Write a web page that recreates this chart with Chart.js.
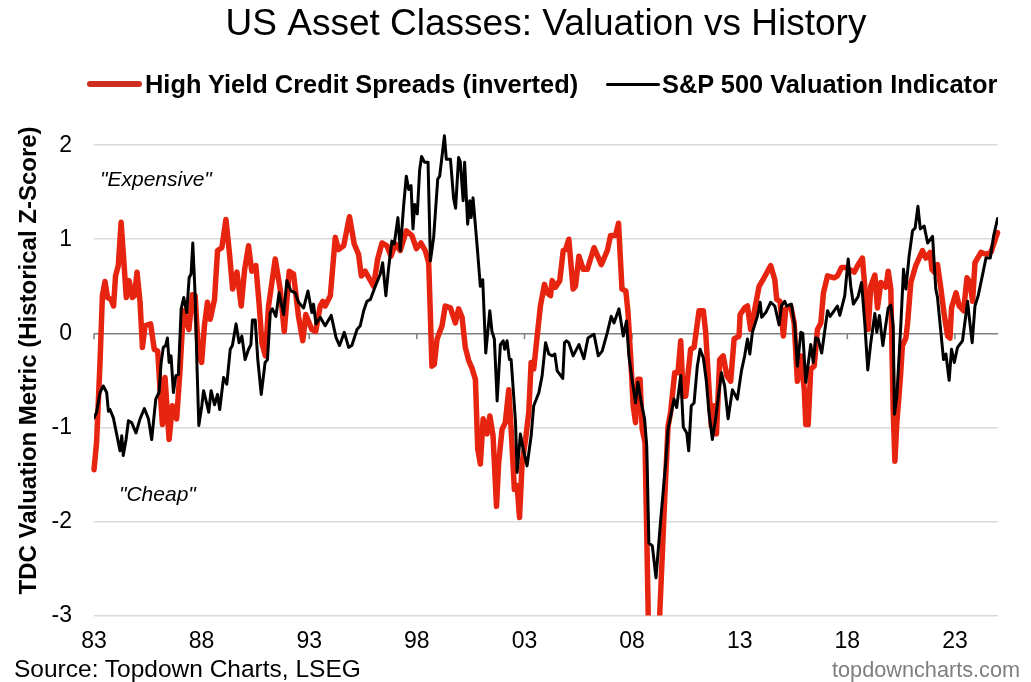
<!DOCTYPE html>
<html>
<head>
<meta charset="utf-8">
<title>US Asset Classes: Valuation vs History</title>
<script src="https://cdn.jsdelivr.net/npm/chart.js@4"></script>
<style>
    html, body { margin: 0; padding: 0; background: #fff; }
    #wrap { position: relative; width: 1031px; height: 682px; overflow: hidden; font-family: "Liberation Sans", Arial, sans-serif; color: #000; }
    #wrap canvas { position: absolute; left: 0; top: 0; }
    .txt { position: absolute; white-space: nowrap; line-height: 1; }
    #legend { position: absolute; left: 0; top: 0; width: 100%; }
    .key { position: absolute; }
    .legendLabel { font-weight: bold; font-size: 25.4px; }
    .note { font-style: italic; font-size: 21px; }
</style>
</head>
<body>
<div id="wrap">
    <canvas id="valuationChart" width="1031" height="682"></canvas>
    <div id="legend"></div>
    <div class="txt note" style="left:100px;top:168px">"Expensive"</div>
    <div class="txt note" style="left:119px;top:483px">"Cheap"</div>
    <div class="txt" style="left:14px;top:657px;font-size:24.5px">Source: Topdown Charts, LSEG</div>
    <div class="txt" style="left:832px;top:659px;font-size:21.7px;color:#7f7f7f">topdowncharts.com</div>
</div>
<script>
// Dati
const titleText = 'US Asset Classes: Valuation vs History';
const yAxisTitle = 'TDC Valuation Metric (Historical Z-Score)';
const tickYears = [1983, 1988, 1993, 1998, 2003, 2008, 2013, 2018, 2023];
const tickLabels = ['83', '88', '93', '98', '03', '08', '13', '18', '23'];

const creditLabel = 'High Yield Credit Spreads (inverted)';
const creditDates = [
    1983, 1983.12, 1983.28, 1983.39, 1983.51, 1983.63, 1983.79, 1983.91, 1984, 1984.13, 1984.26, 1984.37, 1984.5, 1984.63, 1984.78, 1984.88,
    1985, 1985.14, 1985.25, 1985.37, 1985.63, 1985.8, 1985.96, 1986.07, 1986.18, 1986.3, 1986.49, 1986.64, 1986.84, 1987, 1987.15, 1987.23,
    1987.41, 1987.57, 1987.7, 1987.85, 1988, 1988.13, 1988.27, 1988.4, 1988.6, 1988.74, 1988.94, 1989.13, 1989.29, 1989.44, 1989.64, 1989.84,
    1990, 1990.18, 1990.33, 1990.52, 1990.68, 1990.8, 1990.96, 1991.11, 1991.42, 1991.65, 1991.84, 1992.07, 1992.27, 1992.5, 1992.7, 1992.84,
    1993.12, 1993.3, 1993.51, 1993.63, 1993.74, 1993.98, 1994.21, 1994.36, 1994.6, 1994.87, 1995.09, 1995.29, 1995.42, 1995.6, 1995.99, 1996.18,
    1996.38, 1996.61, 1996.8, 1997, 1997.23, 1997.51, 1997.77, 1997.98, 1998.19, 1998.39, 1998.55, 1998.63, 1998.7, 1998.81, 1998.94, 1999.17,
    1999.32, 1999.56, 1999.79, 1999.94, 2000.1, 2000.25, 2000.41, 2000.56, 2000.72, 2000.83, 2000.95, 2001.08, 2001.26, 2001.39, 2001.54, 2001.7,
    2001.8, 2001.96, 2002.11, 2002.27, 2002.38, 2002.53, 2002.66, 2002.77, 2002.89, 2003.05, 2003.2, 2003.31, 2003.43, 2003.59, 2003.74, 2003.93,
    2004.05, 2004.21, 2004.29, 2004.44, 2004.64, 2004.8, 2004.91, 2005.06, 2005.26, 2005.37, 2005.53, 2005.73, 2005.92, 2006.23, 2006.57, 2006.85,
    2007, 2007.23, 2007.37, 2007.53, 2007.71, 2007.81, 2007.93, 2008.05, 2008.16, 2008.27, 2008.37, 2008.47, 2008.6, 2008.68, 2008.75, 2009,
    2009.28, 2009.48, 2009.67, 2009.79, 2009.98, 2010.13, 2010.26, 2010.37, 2010.49, 2010.72, 2010.88, 2011.11, 2011.31, 2011.42, 2011.53, 2011.68,
    2011.81, 2011.92, 2012.07, 2012.23, 2012.4, 2012.58, 2012.74, 2012.97, 2013.02, 2013.23, 2013.36, 2013.51, 2013.67, 2013.9, 2014.13, 2014.44,
    2014.63, 2014.72, 2014.87, 2015.03, 2015.14, 2015.37, 2015.53, 2015.68, 2015.84, 2016, 2016.07, 2016.18, 2016.3, 2016.46, 2016.61, 2016.77,
    2016.89, 2017.08, 2017.39, 2017.54, 2017.73, 2017.93, 2018.32, 2018.5, 2018.7, 2018.86, 2018.97, 2019.09, 2019.28, 2019.4, 2019.56, 2019.79,
    2019.9, 2020.02, 2020.13, 2020.21, 2020.3, 2020.46, 2020.56, 2020.72, 2020.8, 2020.95, 2021.18, 2021.49, 2021.65, 2021.85, 2021.93, 2022.04,
    2022.19, 2022.35, 2022.5, 2022.66, 2022.77, 2022.84, 2023.05, 2023.2, 2023.4, 2023.56, 2023.7, 2023.82, 2023.93, 2024.21, 2024.44, 2024.67, 2024.98
];
const creditValues = [
    -1.45, -1.16, -0.31, 0.40, 0.55, 0.38, 0.36, 0.29, 0.61, 0.72, 1.18, 0.82, 0.38, 0.56, 0.38, 0.40,
    0.65, 0.33, -0.15, 0.08, 0.10, -0.17, -0.19, -0.60, -0.97, -0.47, -1.13, -0.77, -0.91, -0.38, 0.24, 0.18,
    0.04, 0.41, 0.40, -0.20, -0.31, 0.08, 0.33, 0.15, 0.36, 0.88, 0.91, 1.21, 0.86, 0.47, 0.65, 0.29,
    0.68, 0.93, 0.66, 0.72, 0.29, -0.10, -0.24, 0.29, 0.79, 0.47, 0.02, 0.66, 0.63, 0.18, -0.08, 0.20,
    0.04, 0.02, 0.29, 0.34, 0.29, 0.40, 1.02, 0.89, 0.93, 1.24, 0.95, 0.84, 0.61, 0.66, 0.50, 0.79,
    0.96, 0.93, 0.82, 0.95, 0.88, 1.09, 1.04, 0.90, 0.96, 0.88, 0.75, 0.18, -0.35, -0.33, -0.06, 0.08,
    0.29, 0.27, 0.11, 0.26, 0.17, -0.15, -0.29, -0.37, -0.49, -1.23, -1.39, -0.91, -1.07, -0.88, -1.09, -1.84,
    -1.38, -1.02, -0.95, -0.60, -1.02, -1.66, -1.62, -1.96, -1.38, -1.13, -0.84, -0.31, -0.38, -0.03, 0.29, 0.52,
    0.43, 0.40, 0.56, 0.49, 0.56, 0.88, 0.89, 1.00, 0.47, 0.50, 0.82, 0.68, 0.68, 0.91, 0.73, 0.88,
    1.04, 1.04, 1.17, 0.47, 0.45, 0.22, -0.24, -0.77, -0.95, -0.49, -0.49, -1.02, -1.16, -2.12, -3.01, -3.70,
    -3.01, -1.94, -0.99, -0.84, -0.42, -0.42, -0.08, -0.67, -0.67, -0.17, -0.15, 0.24, 0.24, 0.01, -0.42, -0.99,
    -0.77, -1.07, -0.28, -0.24, -0.45, -0.51, -0.06, -0.03, 0.20, 0.27, 0.29, 0.04, 0.22, 0.50, 0.59, 0.72,
    0.57, 0.36, 0.34, -0.03, 0.26, 0.29, 0.11, -0.51, -0.24, -0.60, -0.97, -0.97, -0.38, -0.35, 0.04, 0.11,
    0.43, 0.61, 0.59, 0.61, 0.70, 0.70, 0.65, 0.73, 0.80, 0.36, 0.04, 0.50, 0.62, 0.27, 0.54, 0.49,
    0.66, 0.47, -0.81, -1.36, -0.95, -0.49, -0.13, -0.05, 0.11, 0.54, 0.72, 0.88, 0.80, 0.86, 0.68, 0.65,
    0.73, 0.47, 0.20, -0.03, -0.05, 0.27, 0.43, 0.29, 0.24, 0.59, 0.54, 0.34, 0.75, 0.86, 0.84, 0.86, 1.07
];

const equityLabel = 'S&P 500 Valuation Indicator';
const equityDates = [
    1983, 1983.12, 1983.28, 1983.43, 1983.59, 1983.67, 1983.74, 1983.9, 1984.05, 1984.21, 1984.29, 1984.36, 1984.49, 1984.6, 1984.75, 1984.95,
    1985.14, 1985.34, 1985.53, 1985.68, 1985.87, 1986.02, 1986.12, 1986.22, 1986.33, 1986.41, 1986.49, 1986.58, 1986.69, 1986.8, 1986.92, 1987.05,
    1987.17, 1987.31, 1987.42, 1987.51, 1987.59, 1987.7, 1987.78, 1987.87, 1988.01, 1988.09, 1988.21, 1988.33, 1988.44, 1988.6, 1988.74, 1988.84,
    1989.02, 1989.17, 1989.33, 1989.43, 1989.6, 1989.74, 1989.87, 1990.02, 1990.18, 1990.29, 1990.36, 1990.49, 1990.61, 1990.77, 1990.95, 1991.06,
    1991.19, 1991.29, 1991.45, 1991.6, 1991.81, 1991.96, 1992.15, 1992.35, 1992.5, 1992.74, 1992.94, 1993.12, 1993.2, 1993.31, 1993.51, 1993.74,
    1994.02, 1994.25, 1994.41, 1994.63, 1994.83, 1994.98, 1995.22, 1995.37, 1995.53, 1995.68, 1995.84, 1996.07, 1996.3, 1996.41, 1996.56, 1996.69,
    1996.84, 1996.95, 1997.12, 1997.23, 1997.39, 1997.51, 1997.62, 1997.73, 1997.82, 1997.9, 1998.02, 1998.13, 1998.22, 1998.35, 1998.52, 1998.63,
    1998.78, 1998.97, 1999.06, 1999.28, 1999.37, 1999.56, 1999.71, 1999.8, 1999.94, 2000.02, 2000.15, 2000.22, 2000.36, 2000.46, 2000.52, 2000.61,
    2000.8, 2000.95, 2001.06, 2001.2, 2001.39, 2001.49, 2001.6, 2001.73, 2001.88, 2002.01, 2002.08, 2002.19, 2002.3, 2002.38, 2002.58, 2002.66,
    2002.81, 2002.94, 2003.12, 2003.31, 2003.43, 2003.67, 2003.82, 2003.98, 2004.13, 2004.29, 2004.41, 2004.52, 2004.78, 2004.86, 2004.95, 2005.06,
    2005.26, 2005.53, 2005.76, 2005.95, 2006.23, 2006.43, 2006.61, 2006.85, 2007.03, 2007.16, 2007.39, 2007.59, 2007.74, 2007.85, 2008.01, 2008.16,
    2008.27, 2008.43, 2008.58, 2008.68, 2008.78, 2008.94, 2009.11, 2009.33, 2009.56, 2009.67, 2009.95, 2010.07, 2010.26, 2010.38, 2010.54, 2010.63,
    2010.75, 2010.88, 2011.03, 2011.16, 2011.31, 2011.45, 2011.57, 2011.73, 2011.88, 2012.15, 2012.3, 2012.46, 2012.66, 2012.89, 2013.08, 2013.23,
    2013.36, 2013.47, 2013.59, 2013.82, 2013.95, 2014.02, 2014.21, 2014.44, 2014.63, 2014.83, 2014.94, 2015.09, 2015.18, 2015.4, 2015.56, 2015.68,
    2015.84, 2015.93, 2016.07, 2016.3, 2016.42, 2016.53, 2016.64, 2016.81, 2017.08, 2017.2, 2017.39, 2017.54, 2017.65, 2017.88, 2018.04, 2018.16,
    2018.28, 2018.5, 2018.66, 2018.81, 2018.95, 2019.09, 2019.28, 2019.37, 2019.49, 2019.65, 2019.9, 2020.02, 2020.13, 2020.19, 2020.3, 2020.49,
    2020.61, 2020.72, 2020.87, 2021.03, 2021.15, 2021.28, 2021.39, 2021.57, 2021.73, 2021.96, 2022.11, 2022.19, 2022.47, 2022.58, 2022.73, 2022.84,
    2022.97, 2023.12, 2023.35, 2023.59, 2023.66, 2023.8, 2023.93, 2024.08, 2024.29, 2024.44, 2024.64, 2024.8, 2024.98
];
const equityValues = [
    -0.90, -0.84, -0.63, -0.56, -0.63, -0.83, -0.81, -0.90, -1.07, -1.25, -1.09, -1.30, -1.13, -0.93, -0.95, -1.06,
    -0.91, -0.80, -0.91, -1.13, -0.70, -0.63, -0.31, -0.15, -0.13, -0.05, -0.31, -0.24, -0.63, -0.45, -0.44, 0.26,
    0.38, 0.22, 0.59, 0.63, 0.96, 0.40, -0.31, -0.98, -0.77, -0.61, -0.72, -0.84, -0.61, -0.76, -0.65, -0.81,
    -0.47, -0.54, -0.17, -0.13, 0.10, -0.10, -0.03, -0.28, -0.17, -0.12, 0.14, 0.14, -0.28, -0.65, -0.31, -0.28,
    0.22, 0.26, 0.18, 0.43, 0.20, 0.56, 0.45, 0.43, 0.33, 0.27, 0.45, 0.22, 0.31, 0.10, 0.17, 0.08,
    0.19, -0.05, -0.13, 0.01, -0.15, -0.13, 0.04, 0.08, 0.24, 0.34, 0.36, 0.50, 0.63, 0.75, 0.40, 0.70,
    0.98, 0.95, 1.23, 0.88, 1.37, 1.67, 1.53, 1.57, 1.11, 1.37, 1.27, 1.74, 1.88, 1.82, 1.82, 0.77,
    1.02, 1.64, 1.67, 2.10, 1.85, 1.85, 1.43, 1.33, 1.87, 1.82, 1.41, 1.82, 1.16, 1.41, 1.23, 1.44,
    0.93, 0.50, 0.57, -0.21, 0.24, 0.02, -0.06, -0.72, -0.12, -0.08, -0.17, -0.08, -0.28, -0.28, -0.93, -1.48,
    -1.07, -1.23, -1.41, -1.09, -0.77, -0.63, -0.45, -0.10, -0.22, -0.24, -0.22, -0.40, -0.48, -0.10, -0.08, -0.10,
    -0.24, -0.12, -0.27, -0.05, -0.01, -0.24, -0.19, 0.01, 0.18, 0.11, 0.26, -0.03, 0.13, -0.24, -0.51, -0.74,
    -0.52, -0.74, -0.91, -1.20, -2.23, -2.26, -2.60, -1.98, -1.38, -1.02, -0.70, -0.79, -0.45, -1.00, -1.06, -1.25,
    -0.77, -0.74, -0.35, -0.17, -0.26, -0.51, -0.84, -1.13, -0.91, -0.42, -0.56, -0.91, -0.60, -0.70, -0.40, -0.24,
    -0.06, -0.22, 0.01, 0.18, 0.33, 0.17, 0.22, 0.33, 0.29, 0.09, 0.29, 0.34, 0.29, 0.31, 0.08, -0.35,
    0.01, 0, -0.52, -0.12, -0.31, -0.05, -0.06, -0.21, 0.24, 0.18, 0.24, 0.29, 0.19, 0.40, 0.79, 0.50,
    0.31, 0.39, 0.54, 0.11, -0.39, -0.10, 0.21, 0.01, 0.19, -0.13, 0.27, 0.30, 0.08, -0.86, -0.67, 0.11,
    0.68, 0.47, 0.82, 1.09, 1.12, 1.35, 1.11, 1.14, 0.96, 1.03, 0.47, 0.38, -0.28, -0.22, -0.50, -0.17,
    -0.31, -0.15, -0.08, 0.34, 0.18, -0.10, 0.29, 0.40, 0.63, 0.80, 0.80, 1.04, 1.22
];

const creditColor = '#e6240f';
const equityColor = '#000000';

function toPoints(dates, values) {
    return dates.map((d, i) => ({ x: d, y: values[i] }));
}

// Asse dello zero con le tacche degli anni
const zeroAxisPlugin = {
    id: 'zeroAxis',
    beforeDatasetsDraw: function(chart) {
        const ctx = chart.ctx;
        const zeroY = chart.scales.y.getPixelForValue(0);
        ctx.save();
        ctx.strokeStyle = '#808080';
        ctx.lineWidth = 1.5;
        tickYears.forEach(year => {
            const px = chart.scales.x.getPixelForValue(year);
            ctx.beginPath();
            ctx.moveTo(px, zeroY);
            ctx.lineTo(px, zeroY + 6);
            ctx.stroke();
        });
        ctx.restore();
    }
};

const chart = new Chart(document.getElementById('valuationChart'), {
    type: 'line',
    plugins: [zeroAxisPlugin],
    data: {
        datasets: [{
            label: creditLabel,
            data: toPoints(creditDates, creditValues),
            borderColor: creditColor,
            borderWidth: 5.5,
            order: 2,
            clip: { left: 4, top: 4, right: 4, bottom: 0 }
        }, {
            label: equityLabel,
            data: toPoints(equityDates, equityValues),
            borderColor: equityColor,
            borderWidth: 3,
            order: 1
        }]
    },
    options: {
        responsive: false,
        animation: false,
        devicePixelRatio: 1,
        layout: { padding: { left: 0, right: 33, top: 0, bottom: 23 } },
        elements: {
            point: { radius: 0 },
            line: { tension: 0, borderJoinStyle: 'round', borderCapStyle: 'round' }
        },
        plugins: {
            legend: { display: false },
            tooltip: { enabled: false },
            title: {
                display: true,
                text: titleText,
                fullSize: false,
                color: '#000',
                font: { family: '"Liberation Sans"', size: 37, weight: 'normal' },
                padding: { top: 3, bottom: 79 }
            }
        },
        scales: {
            x: {
                type: 'linear',
                min: 1983,
                max: 2025,
                afterBuildTicks: function(scale) {
                    scale.ticks = tickYears.map(v => ({ value: v }));
                },
                grid: { display: false },
                border: { display: false },
                ticks: {
                    color: '#000',
                    padding: 4,
                    autoSkip: false,
                    maxRotation: 0,
                    font: { family: '"Liberation Sans"', size: 23 },
                    callback: function(v) { return tickLabels[tickYears.indexOf(v)]; }
                }
            },
            y: {
                min: -3,
                max: 2.2,
                afterFit: function(scale) { scale.width = 94; },
                grid: {
                    drawTicks: false,
                    lineWidth: 1.5,
                    color: ctx => ctx.tick.value === 0 ? '#808080' : '#d9d9d9'
                },
                border: { display: false },
                ticks: {
                    stepSize: 1,
                    includeBounds: false,
                    color: '#000',
                    padding: 22,
                    font: { family: '"Liberation Sans"', size: 23 }
                },
                title: {
                    display: true,
                    text: yAxisTitle,
                    align: 'end',
                    color: '#000',
                    font: { family: '"Liberation Sans"', size: 24, weight: 'bold' },
                    padding: { top: 15, bottom: 0 }
                }
            }
        }
    }
});

// Legenda HTML costruita dai dataset
const legendEl = document.getElementById('legend');
const legendPos = [
    { keyLeft: 87, keyWidth: 55, textLeft: 145, top: 72 },
    { keyLeft: 606, keyWidth: 54, textLeft: 662, top: 72 }
];
chart.data.datasets.forEach((ds, i) => {
    const pos = legendPos[i];
    const key = document.createElement('div');
    key.className = 'key';
    key.style.cssText = `left:${pos.keyLeft}px;top:${pos.top + 12 - (i === 0 ? 3 : 1.5)}px;width:${pos.keyWidth}px;height:${i === 0 ? 6 : 3}px;background:${i === 0 ? '#cf2f1f' : ds.borderColor};border-radius:3px`;
    const label = document.createElement('div');
    label.className = 'txt legendLabel';
    label.style.cssText = `left:${pos.textLeft}px;top:${pos.top}px`;
    label.textContent = ds.label;
    legendEl.appendChild(key);
    legendEl.appendChild(label);
});
</script>
</body>
</html>
